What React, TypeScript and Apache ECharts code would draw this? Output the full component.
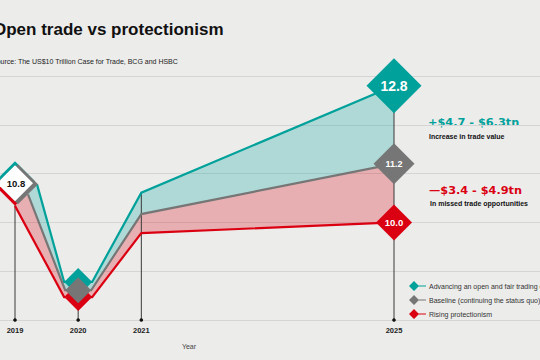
import React, { useEffect, useRef } from 'react';
import * as echarts from 'echarts';

// ---- data ----
const years = [2019, 2020, 2021, 2025];
const yearLabels = ['2019', '2020', '2021', '2025'];
const openTrade = [10.8, 8.78, 10.61, 12.8];
const baseline = [10.8, 8.61, 10.17, 11.2];
const protectionism = [10.8, 8.47, 9.78, 10.0];
const seriesNames = [
  'Advancing an open and fair trading environment',
  'Baseline (continuing the status quo)',
  'Rising protectionism',
];
const yMin = 8;
const yMax = 13;
const titleText = 'Open trade vs protectionism';
const sourceText = 'Source: The US$10 Trillion Case for Trade, BCG and HSBC';
const axisName = 'Year';
const gainText = '+$4.7 - $6.3tn';
const gainCaption = 'Increase in trade value';
const lossText = '\u2014$3.4 - $4.9tn';
const lossCaption = 'In missed trade opportunities';

// ---- styles ----
const TEAL = '#00a19a';
const GRAY = '#767676';
const RED = '#db0011';
const FONT = '"Liberation Sans", Arial, Helvetica, sans-serif';

type Geo = {
  half: number[];
  off: [number, number];
  exit: [number, number];
  font: string;
  color: string;
};

const geoOpen: Geo = { half: [20, 14, 0, 27.5], off: [0, -2], exit: [22, 1], font: `bold 14px ${FONT}`, color: TEAL };
const geoBase: Geo = { half: [20, 13, 0, 20.5], off: [3, 1], exit: [13, 11], font: `bold 9px ${FONT}`, color: GRAY };
const geoProt: Geo = { half: [20, 14, 0, 18], off: [0, 2.5], exit: [0, 22.5], font: `bold 9.5px ${FONT}`, color: RED };

function buildPath(vals: number[], g: Geo, api: any): number[][] {
  const pts: number[][] = [];
  const last = years.length - 1;
  for (let i = 0; i < years.length; i++) {
    const c = api.coord([years[i], vals[i]]);
    if (i === 0) {
      pts.push([c[0] + g.exit[0], c[1] + g.exit[1]]);
    } else if (i === last || g.half[i] === 0) {
      pts.push([c[0], c[1]]);
    } else {
      const h = g.half[i];
      pts.push([c[0] - h, c[1]]);
      pts.push([c[0] + h, c[1]]);
    }
  }
  return pts;
}

function diamond(cx: number, cy: number, h: number, fill: string) {
  return {
    type: 'polygon',
    shape: { points: [[cx, cy - h], [cx + h, cy], [cx, cy + h], [cx - h, cy]] },
    style: { fill },
    silent: true,
  };
}

function scenarioRender(vals: number[], g: Geo) {
  return (params: any, api: any) => {
    const i = params.dataIndex;
    const children: any[] = [];
    if (i === 0) {
      children.push({
        type: 'polyline',
        shape: { points: buildPath(vals, g, api) },
        style: { stroke: g.color, lineWidth: 2.2, fill: null, lineJoin: 'miter' },
        silent: true,
      });
    }
    const h = g.half[i];
    if (h > 0) {
      const c = api.coord([api.value(0), api.value(1)]);
      const cx = c[0] + (i === 0 ? g.off[0] : 0);
      const cy = c[1] + (i === 0 ? g.off[1] : 0);
      children.push(diamond(cx, cy, h, g.color));
      if (i === years.length - 1) {
        children.push({
          type: 'text',
          x: cx,
          y: cy + 0.5,
          style: {
            text: vals[i].toFixed(1),
            fill: '#ffffff',
            font: g.font,
            align: 'center',
            verticalAlign: 'middle',
          },
          silent: true,
        });
      }
    }
    return { type: 'group', children };
  };
}

export default function App() {
  const ref = useRef<HTMLDivElement>(null);

  useEffect(() => {
    if (!ref.current) return;
    const chart = echarts.init(ref.current, undefined, { renderer: 'svg' });

    const legendIcon = 'path://M0,5 L5,0 L10,5 L5,10 Z M9,4.4 L17,4.4 L17,5.6 L9,5.6 Z';

    const option: any = {
      animation: false,
      backgroundColor: '#ececeb',
      title: [
        {
          text: titleText,
          left: -7,
          top: 21,
          padding: 0,
          textStyle: { fontSize: 17, fontWeight: 'bold', color: '#111', fontFamily: FONT },
        },
        {
          text: sourceText,
          left: -8,
          top: 58,
          padding: 0,
          textStyle: { fontSize: 7, fontWeight: 'normal', color: '#222', fontFamily: FONT },
        },
      ],
      legend: {
        orient: 'vertical',
        left: 409,
        top: 281,
        padding: 0,
        itemWidth: 17,
        itemHeight: 10,
        itemGap: 4,
        selectedMode: false,
        textStyle: { fontSize: 7, color: '#333', fontFamily: FONT, padding: [0, 0, 0, -2] },
        data: seriesNames.map((name) => ({ name, icon: legendIcon })),
      },
      grid: [
        { left: 15, right: 146, top: 76, bottom: 40 },
        { left: 0, right: 0, top: 76, bottom: 40 },
      ],
      xAxis: [
        {
          gridIndex: 0,
          type: 'value',
          min: years[0],
          max: years[years.length - 1],
          interval: 1,
          axisLine: { show: false },
          axisTick: { show: false },
          splitLine: { show: false },
          axisLabel: {
            margin: 6,
            fontSize: 7.5,
            fontWeight: 'bold',
            color: '#222',
            fontFamily: FONT,
            formatter: (v: number) => (yearLabels.includes(String(v)) ? String(v) : ''),
          },
          name: axisName,
          nameLocation: 'middle',
          nameGap: 23,
          nameTextStyle: { fontSize: 7, color: '#444', fontFamily: FONT, padding: [0, 31, 0, 0] },
        },
        { gridIndex: 1, type: 'value', min: 0, max: 1, show: false },
      ],
      yAxis: [
        {
          gridIndex: 0,
          type: 'value',
          min: yMin,
          max: yMax,
          interval: 1,
          show: false,
        },
        {
          gridIndex: 1,
          type: 'value',
          min: yMin,
          max: yMax,
          interval: 1,
          axisLine: { show: false },
          axisTick: { show: false },
          axisLabel: { show: false },
          splitLine: { show: true, lineStyle: { color: '#d5d5d5', width: 1 } },
        },
      ],
      graphic: [
        { type: 'text', x: 428, y: 122, style: { text: gainText, fill: TEAL, font: `bold 11.3px "DejaVu Sans", sans-serif`, verticalAlign: 'middle' } },
        { type: 'text', x: 429, y: 136, style: { text: gainCaption, fill: '#111', font: `bold 7px ${FONT}`, verticalAlign: 'middle' } },
        { type: 'text', x: 429, y: 190, style: { text: lossText, fill: RED, font: `bold 11.3px "DejaVu Sans", sans-serif`, verticalAlign: 'middle' } },
        { type: 'text', x: 430, y: 203, style: { text: lossCaption, fill: '#111', font: `bold 7px ${FONT}`, verticalAlign: 'middle' } },
      ],
      series: [
        {
          name: 'areas',
          type: 'custom',
          xAxisIndex: 0,
          yAxisIndex: 0,
          z: 1,
          clip: false,
          silent: true,
          data: [[years[0], openTrade[0]]],
          renderItem: (_params: any, api: any) => {
            const pOpen = buildPath(openTrade, geoOpen, api);
            const pBase = buildPath(baseline, geoBase, api);
            const pProt = buildPath(protectionism, geoProt, api);
            return {
              type: 'group',
              children: [
                {
                  type: 'polygon',
                  shape: { points: pOpen.concat(pBase.slice().reverse()) },
                  style: { fill: 'rgba(0,161,154,0.26)' },
                  silent: true,
                },
                {
                  type: 'polygon',
                  shape: { points: pBase.concat(pProt.slice().reverse()) },
                  style: { fill: 'rgba(219,0,17,0.26)' },
                  silent: true,
                },
              ],
            };
          },
        },
        {
          name: 'drops',
          type: 'custom',
          xAxisIndex: 0,
          yAxisIndex: 0,
          z: 2,
          clip: false,
          silent: true,
          data: years.map((y, i) => [y, Math.max(openTrade[i], baseline[i], protectionism[i])]),
          renderItem: (_params: any, api: any) => {
            const top = api.coord([api.value(0), api.value(1)]);
            const bottom = api.coord([api.value(0), yMin]);
            return {
              type: 'group',
              children: [
                {
                  type: 'line',
                  shape: { x1: top[0], y1: top[1], x2: bottom[0], y2: bottom[1] },
                  style: { stroke: '#3a3a3a', lineWidth: 1 },
                  silent: true,
                },
                {
                  type: 'circle',
                  shape: { cx: bottom[0], cy: bottom[1], r: 1.8 },
                  style: { fill: '#111' },
                  silent: true,
                },
              ],
            };
          },
        },
        {
          name: seriesNames[0],
          type: 'custom',
          xAxisIndex: 0,
          yAxisIndex: 0,
          z: 3,
          clip: false,
          itemStyle: { color: TEAL },
          data: years.map((y, i) => [y, openTrade[i]]),
          renderItem: scenarioRender(openTrade, geoOpen),
        },
        {
          name: seriesNames[2],
          type: 'custom',
          xAxisIndex: 0,
          yAxisIndex: 0,
          z: 4,
          clip: false,
          itemStyle: { color: RED },
          data: years.map((y, i) => [y, protectionism[i]]),
          renderItem: scenarioRender(protectionism, geoProt),
        },
        {
          name: seriesNames[1],
          type: 'custom',
          xAxisIndex: 0,
          yAxisIndex: 0,
          z: 5,
          clip: false,
          itemStyle: { color: GRAY },
          data: years.map((y, i) => [y, baseline[i]]),
          renderItem: scenarioRender(baseline, geoBase),
        },
        {
          name: 'start',
          type: 'custom',
          xAxisIndex: 0,
          yAxisIndex: 0,
          z: 6,
          clip: false,
          silent: true,
          data: [[years[0], openTrade[0]]],
          renderItem: (_params: any, api: any) => {
            const c = api.coord([api.value(0), api.value(1)]);
            return {
              type: 'group',
              children: [
                diamond(c[0], c[1], 18, '#ffffff'),
                {
                  type: 'text',
                  x: c[0] + 1,
                  y: c[1] + 0.5,
                  style: {
                    text: Number(api.value(1)).toFixed(1),
                    fill: '#111',
                    font: `bold 9.5px ${FONT}`,
                    align: 'center',
                    verticalAlign: 'middle',
                  },
                  silent: true,
                },
              ],
            };
          },
        },
      ],
    };

    chart.setOption(option);
    return () => {
      chart.dispose();
    };
  }, []);

  return (
    <div
      ref={ref}
      style={{ position: 'fixed', left: 0, top: 0, width: 540, height: 360 }}
    />
  );
}
